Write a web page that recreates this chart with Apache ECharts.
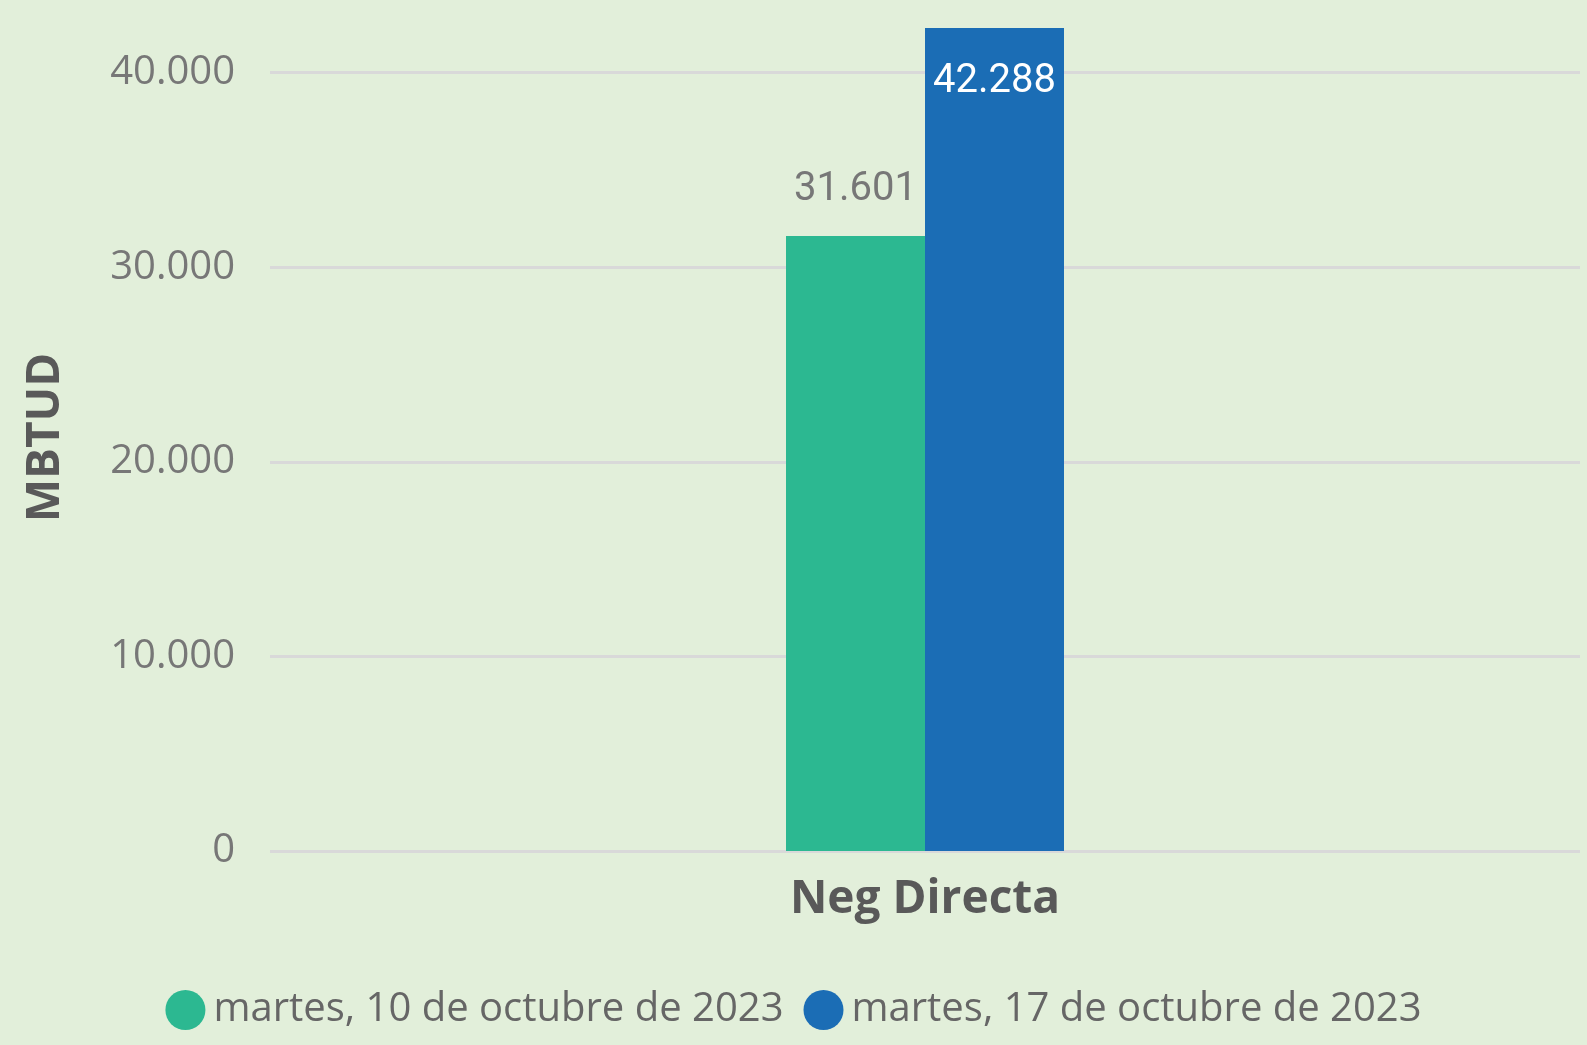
<!DOCTYPE html>
<html>
<head>
<meta charset="utf-8">
<script src="https://cdn.jsdelivr.net/npm/echarts@6/dist/echarts.min.js"></script>
<style>
  html, body { margin: 0; padding: 0; background: #e2efda; }
  #chart { width: 1587px; height: 1045px; }
</style>
</head>
<body>
<div id="chart"></div>
<script>
// datos del gráfico
const categorias = ['Neg Directa'];
const serieNombres = ['martes, 10 de octubre de 2023', 'martes, 17 de octubre de 2023'];
const valores10oct = [31601];
const valores17oct = [42288];
const colores = ['#2cb891', '#1b6db5'];

// separador de miles con punto
const fmtMiles = v => String(v).replace(/\B(?=(\d{3})+(?!\d))/g, '.');

const chart = echarts.init(document.getElementById('chart'));
chart.setOption({
  backgroundColor: '#e2efda',
  animation: false,
  textStyle: { fontFamily: 'Open Sans' },
  legend: {
    left: 'center',
    top: 985,
    icon: 'circle',
    itemWidth: 40,
    itemHeight: 40,
    itemGap: 20,
    textStyle: { fontSize: 40, color: '#666666', fontFamily: 'Open Sans', padding: [0, 0, 0, 3] },
    data: serieNombres
  },
  grid: { left: 270, right: 7, top: 0, bottom: 194 },
  xAxis: {
    type: 'category',
    data: categorias,
    axisLine: { show: false },
    axisTick: { show: false },
    axisLabel: { fontSize: 46, fontWeight: 'bold', color: '#595959', margin: 26 }
  },
  yAxis: {
    type: 'value',
    min: 0,
    max: 43730,
    interval: 10000,
    name: 'MBTUD',
    nameLocation: 'middle',
    nameGap: 201,
    nameTextStyle: { fontSize: 46, fontWeight: 'bold', color: '#595959', padding: [0, 24, 0, 0] },
    axisLine: { show: false },
    axisTick: { show: false },
    axisLabel: {
      fontSize: 40, color: '#777777', margin: 35, showMaxLabel: false,
      formatter: v => fmtMiles(v)
    },
    splitLine: { showMaxLine: false, lineStyle: { color: '#d9d9d9', width: 3 } }
  },
  series: [
    {
      name: serieNombres[0],
      type: 'bar',
      data: valores10oct,
      barWidth: 139,
      barGap: '0%',
      itemStyle: { color: colores[0] },
      label: {
        show: true, position: 'top', distance: 26,
        fontSize: 40, fontFamily: 'Roboto', color: '#777777',
        formatter: p => fmtMiles(p.value)
      }
    },
    {
      name: serieNombres[1],
      type: 'bar',
      data: valores17oct,
      barWidth: 139,
      barGap: '0%',
      itemStyle: { color: colores[1] },
      label: {
        show: true, position: 'insideTop', distance: 34,
        fontSize: 40, fontFamily: 'Roboto', color: '#ffffff',
        formatter: p => fmtMiles(p.value)
      }
    }
  ]
});
</script>
</body>
</html>
